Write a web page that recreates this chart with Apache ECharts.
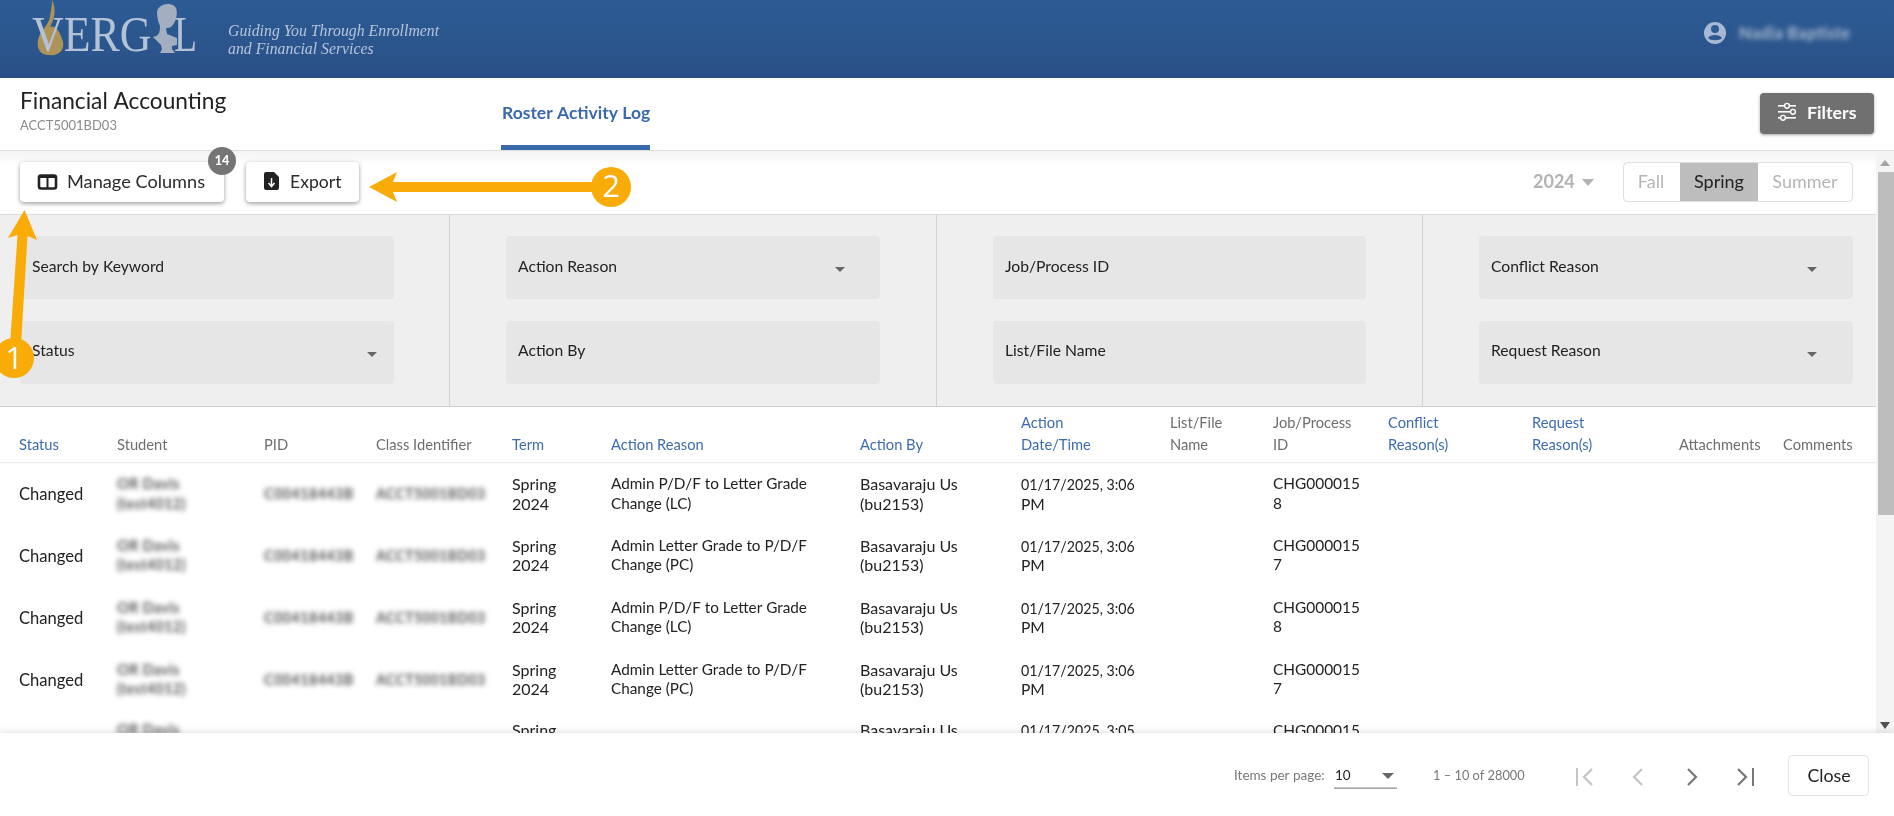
<!DOCTYPE html>
<html><head><meta charset="utf-8"><style>html,body{margin:0;padding:0;background:#fff;overflow:hidden}#c{width:1894px;height:816px}</style>
<script src="https://cdn.jsdelivr.net/npm/echarts@6/dist/echarts.min.js"></script></head>
<body><div id="c"></div>
<script>
const headerLabels = [["Status"],["Student"],["PID"],["Class Identifier"],["Term"],["Action Reason"],["Action By"],["Action","Date/Time"],["List/File","Name"],["Job/Process","ID"],["Conflict","Reason(s)"],["Request","Reason(s)"],["Attachments"],["Comments"]];
const sortable = [1,0,0,0,1,1,1,1,0,0,1,1,0,0];
const statusValues = ["Changed","Changed","Changed","Changed"];
const studentLines = ["OR Davis","(test4012)"];
const pidValue = "C00418443B";
const classValue = "ACCT5001BD03";
const termLines = ["Spring","2024"];
const reasonValues = [["Admin P/D/F to Letter Grade","Change (LC)"],["Admin Letter Grade to P/D/F","Change (PC)"],["Admin P/D/F to Letter Grade","Change (LC)"],["Admin Letter Grade to P/D/F","Change (PC)"]];
const actionByLines = ["Basavaraju Us","(bu2153)"];
const dateLines = ["01/17/2025, 3:06","PM"];
const jobValues = [["CHG000015","8"],["CHG000015","7"],["CHG000015","8"],["CHG000015","7"]];
const lastRow = {student:"OR Davis",term:"Spring",by:"Basavaraju Us",date:"01/17/2025, 3:05",job:"CHG000015"};
const filterLabels = [["Search by Keyword","Status"],["Action Reason","Action By"],["Job/Process ID","List/File Name"],["Conflict Reason","Request Reason"]];
const termOptions = ["Fall","Spring","Summer"];

const colX = [19,117,264,376,512,611,860,1021,1170,1273,1388,1532,1679,1783];
const FONT = 'Lato, "Open Sans", sans-serif';
const els = [];
const R=(x,y,w,h,fill,o={})=>els.push({type:'rect',silent:true,shape:{x,y,width:w,height:h,r:o.r||0},style:{fill,stroke:o.stroke,lineWidth:o.lw||1,shadowBlur:o.sb||0,shadowColor:o.sc,shadowOffsetY:o.sy||0}});
const T=(text,x,y,size,fill,o={})=>els.push({type:'text',silent:true,x,y:y+1,scaleX:o.sx||1,style:{text,x:0,y:0,fill,font:`${o.it?'italic ':''}${o.w||400} ${size}px ${o.f||FONT}`,align:o.a||'left',verticalAlign:'middle'}});
const B1=(text,x,y,size,color,blur)=>els.push({type:'text',silent:true,style:{text,x:x-3000,y:y+1,fill:'#000',font:`700 ${size}px ${FONT}`,align:'left',verticalAlign:'middle',textShadowColor:color,textShadowBlur:blur||5,textShadowOffsetX:3000}});
const B=(text,x,y,size,color,blur)=>{B1(text,x,y,size,color,blur);};
const P=(pts,fill,o={})=>els.push({type:'polygon',silent:true,shape:{points:pts},style:{fill}});
const L=(pts,stroke,lw)=>els.push({type:'polyline',silent:true,shape:{points:pts},style:{stroke,lineWidth:lw,fill:'none'}});
const C=(cx,cy,r,fill,o={})=>els.push({type:'circle',silent:true,shape:{cx,cy,r},style:{fill,stroke:o.stroke,lineWidth:o.lw||1}});
let pathN=0;
const PA=(d,fill)=>{const n='svgShape'+(pathN++);echarts.graphic.registerShape(n,echarts.graphic.extendPath(d,{}));els.push({type:n,silent:true,style:{fill}});};
const grad=(a,b)=>new echarts.graphic.LinearGradient(0,0,0,1,[{offset:0,color:a},{offset:1,color:b}]);

// page header
R(0,0,1894,78,grad('#2c5b94','#2a5187'));
PA('M52 0 C57 10 54 20 50 27 C56 24 61 34 63 42 C65 52 56 56 50 55 C42 56 36 50 38 40 C40 30 49 26 50 16 C51 10 52 6 52 0 Z','#ae9358');
const SERIF='"Liberation Serif", serif';
T('VERG',32,37,51,'#b4c2d6',{f:SERIF,sx:.86});
T('L',174,37,51,'#b4c2d6',{f:SERIF,sx:.74});
PA('M157 12 C158 4 172 1 176 8 C178 14 176 22 172 26 C170 28 168 28 166 28 L167 34 L177 38 L177 45 L172 46 L172 49 L175 53 L160 53 L162 49 L161 45 L153 37 C158 36 160 34 160 26 C158 22 157 17 157 12 Z','#a3afc0');
T('Guiding You Through Enrollment',228,31,15.8,'#b7c5d9',{it:1,f:SERIF});
T('and Financial Services',228,49,15.8,'#b7c5d9',{it:1,f:SERIF});
C(1715,33,11,'#a9b9d4');C(1715,29,4,'#2c5a92');
PA('M1708 38 C1710 34 1720 34 1722 38 C1720 41 1710 41 1708 38 Z','#2c5a92');
B('Nadia Baptiste',1739,33,17,'#b0bfd4',5);

// title bar
T('Financial Accounting',20,101,22.7,'#222');
T('ACCT5001BD03',20,125,13,'#8a8a8a');
T('Roster Activity Log',502,112,17.5,'#3a69ab',{w:700});
R(501,145,149,5,'#3a69ab');
R(0,150,1894,1,'#dcdcdc');
R(1760,93,114,41,'#707070',{r:4,sb:3,sc:'rgba(0,0,0,.35)',sy:1});
[[105,1787],[111,1793],[117,1783]].forEach(([y,cx])=>{R(1778,y,18,1.6,'#fff');C(cx,y+.8,2.4,'#707070',{stroke:'#fff',lw:1.4});});
T('Filters',1807,112.5,17.8,'#fff',{w:700});

// toolbar
R(0,151,1876,14,grad('#f3f3f3','#ffffff'));
R(0,165,1876,50,'#fff');
R(20,162,204,40,'#fff',{r:4,sb:4,sc:'rgba(0,0,0,.4)',sy:1.5});
R(246,162,113,40,'#fff',{r:4,sb:4,sc:'rgba(0,0,0,.4)',sy:1.5});
R(39,175.5,17,13,'none',{r:2,stroke:'#222',lw:2.6});R(46.5,175,2,13,'#222');R(39,175,17,3,'#222');
T('Manage Columns',67,181,18.2,'#2b2b2b');
C(222,161,14,'#757575');
T('14',222,160,12.5,'#fff',{w:900,a:'center'});
PA('M266 172 L274 172 L279 177 L279 188 Q279 190 277 190 L266 190 Q264 190 264 188 L264 174 Q264 172 266 172 Z','#222');
L([[271.5,178],[271.5,186]],'#fff',1.5);L([[268.5,183],[271.5,186.5],[274.5,183]],'#fff',1.5);
T('Export',290,181,17.6,'#2b2b2b');
T('2024',1533,181,18,'#b3b3b3',{w:700});
P([[1582,179],[1594,179],[1588,186]],'#b3b3b3');
R(1623.5,162.5,229,39,'#fff',{r:4,stroke:'#dedede'});
R(1680,163,78,38,'#bdbdbd');
T(termOptions[0],1651,181,18,'#b5b5b5',{a:'center'});
T(termOptions[1],1719,181,18,'#222',{a:'center'});
T(termOptions[2],1805,181,18,'#b5b5b5',{a:'center'});
// scrollbar
R(1876,151,18,582,'#f4f4f4');
R(1878,172,16,343,'#bdbdbd');
P([[1880,166],[1890,166],[1885,160]],'#a3a3a3');
P([[1880,722],[1890,722],[1885,729]],'#505050');

// filter panel
R(0,215,1876,191,'#efefef');
R(0,214,1876,1,'#dcdcdc');R(0,406,1876,1.4,'#cfcfcf');
[449,936,1422].forEach(x=>R(x,215,1,191,'#d2d2d2'));
const fx=[20,506,993,1479],fw=[374,374,373,374];
filterLabels.forEach((col,i)=>col.forEach((t,j)=>{
  R(fx[i],j?321:236,fw[i],j?63:63,'#e6e6e6',{r:4});
}));
filterLabels.forEach((col,i)=>col.forEach((t,j)=>{
  T(t,fx[i]+12,j?349.5:265.5,15.7,'#222');
}));
[[372,354],[840,269],[1812,269],[1812,354]].forEach(([x,y])=>P([[x-5,y-2],[x+5,y-2],[x,y+3]],'#666'));

// table
R(0,407,1876,326,'#fff');
const HS=14.7;
headerLabels.forEach((ls,i)=>{
  const col=sortable[i]?'#3d6cad':'#6e6e6e';
  if(ls.length==2){T(ls[0],colX[i],422,HS,col);T(ls[1],colX[i],444,HS,col);} else T(ls[0],colX[i],444,HS,col);
});
R(0,462,1876,1.2,'#ececec');
const rowY=[483.5,545.5,607.5,669.5], gap=[20,19,19,19];
const DS=15.3;
rowY.forEach((y,i)=>{
  const y2=y+gap[i], m=(y+y2)/2;
  T(statusValues[i],colX[0],m+.5,16.6,'#222');
  B(studentLines[0],colX[1],y,15,'#555',5);B(studentLines[1],colX[1],y2,15,'#555',5);
  B(pidValue,colX[2],m,15,'#555',5);B(classValue,colX[3],m,14.6,'#555',5);
  T(termLines[0],colX[4],y,16,'#222');T(termLines[1],colX[4],y2,16,'#222');
  T(reasonValues[i][0],colX[5],y,DS,'#222');T(reasonValues[i][1],colX[5],y2,DS,'#222');
  T(actionByLines[0],colX[6],y,16,'#222');T(actionByLines[1],colX[6],y2,16,'#222');
  T(dateLines[0],colX[7],y,15.6,'#222',{sx:.91});T(dateLines[1],colX[7],y2,15.6,'#222');
  T(jobValues[i][0],colX[9],y,15.4,'#222');T(jobValues[i][1],colX[9],y2,15.4,'#222');
});
B(lastRow.student,colX[1],729,15,'#555',5);
T(lastRow.term,colX[4],730,16,'#222');T(lastRow.by,colX[6],730,16,'#222');T(lastRow.date,colX[7],730,15.6,'#222',{sx:.91});T(lastRow.job,colX[9],730,15.4,'#222');

// footer
R(0,733,1894,83,'#fff',{sb:6,sc:'rgba(0,0,0,.12)',sy:-1});
T('Items per page:',1234,775,13.5,'#777');
T('10',1335,775,13.5,'#222');
P([[1382,773],[1394,773],[1388,779]],'#666');
R(1334,787.5,63,1.2,'#8a8a8a');
T('1 – 10 of 28000',1433,775,13.5,'#777',{sx:.95});
R(1576,768,2,18,'#c4c4c4');L([[1592,769],[1584,777],[1592,785]],'#c4c4c4',2.2);
L([[1642,769],[1634,777],[1642,785]],'#c4c4c4',2.2);
L([[1688,769],[1696,777],[1688,785]],'#777',2.2);
L([[1738,769],[1746,777],[1738,785]],'#777',2.2);R(1752,768,2,18,'#777');
R(1788.5,755.5,80,40,'#fff',{r:4,stroke:'#e2e2e2'});
T('Close',1829,775,17.8,'#222',{a:'center'});

// annotation arrows
P([[24.5,210],[37,240],[27.5,236],[21,345],[10,345],[17.5,235],[8,238]],'#f9ac08');
C(14,358,20,'#f9ac08');
T('1',14,359,31,'#fff',{a:'center',f:'"Open Sans",sans-serif',w:400});
P([[369,187],[397,172],[393,182],[600,182],[600,192],[393,192],[397,202]],'#f9ac08');
C(611,187,20,'#f9ac08');
T('2',611,187,31,'#fff',{a:'center',f:'"Open Sans",sans-serif',w:400});

const chart=echarts.init(document.getElementById('c'),null,{renderer:'canvas'});
chart.setOption({animation:false,backgroundColor:'#fff',graphic:{elements:els}});
</script></body></html>
